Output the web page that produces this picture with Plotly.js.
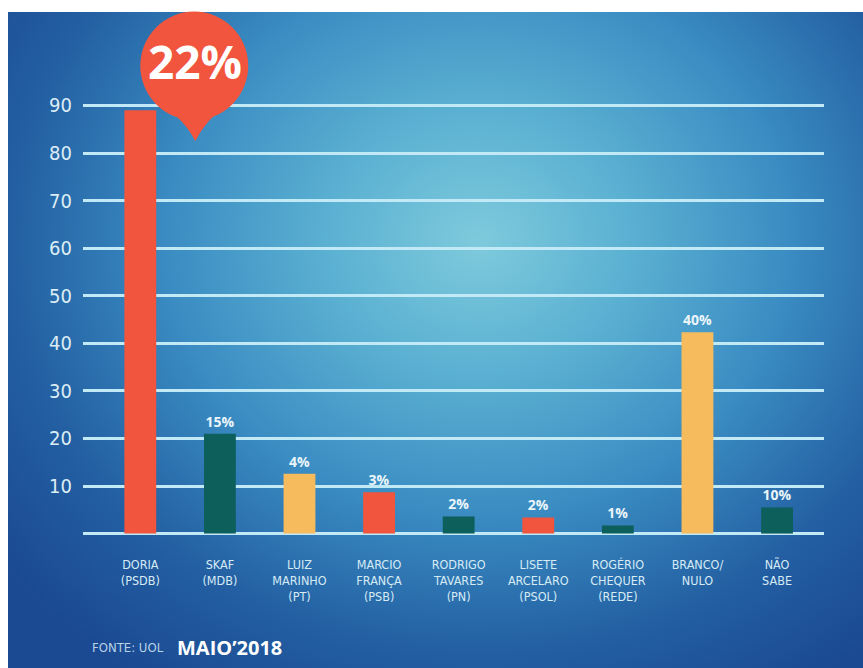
<!DOCTYPE html>
<html>
<head>
<meta charset="utf-8">
<script src="https://cdn.plot.ly/plotly-3.0.1.min.js"></script>
<style>
  html, body { margin: 0; padding: 0; background: #ffffff; }
  #wrap { position: relative; width: 863px; height: 668px; overflow: hidden; }
  #bg { position: absolute; left: 8px; top: 12px; width: 855px; height: 656px;
        background: radial-gradient(ellipse 70% 80% at 55% 35%, #7ecadc 0%, #5bb1d2 25%, #3a8cc2 52%, #235fa2 78%, #1b4a92 100%); }
  #chart { position: absolute; left: 0; top: 0; width: 863px; height: 668px; }
</style>
</head>
<body>
<div id="wrap">
  <div id="bg"></div>
  <div id="chart"></div>
</div>
<script>
// Data
var categories = ["DORIA<br>(PSDB)", "SKAF<br>(MDB)", "LUIZ<br>MARINHO<br>(PT)", "MARCIO<br>FRANÇA<br>(PSB)",
                  "RODRIGO<br>TAVARES<br>(PN)", "LISETE<br>ARCELARO<br>(PSOL)", "ROGÉRIO<br>CHEQUER<br>(REDE)",
                  "BRANCO/<br>NULO", "NÃO<br>SABE"];
var barHeights = [89, 21, 12.6, 8.7, 3.6, 3.4, 1.7, 42.3, 5.5];
var percentLabels = ["", "15%", "4%", "3%", "2%", "2%", "1%", "40%", "10%"];
var barColors = ["#f2553d", "#0d5f5c", "#f6bb5c", "#f2553d", "#0d5f5c", "#f2553d", "#0d5f5c", "#f6bb5c", "#0d5f5c"];
var highlightLabel = "22%";
var yTickVals = [0, 10, 20, 30, 40, 50, 60, 70, 80, 90];
var yTickText = ["", "10", "20", "30", "40", "50", "60", "70", "80", "90"];
var sourceText = "FONTE: UOL";
var dateText = "MAIO’2018";

var xIdx = categories.map(function (c, i) { return i; });

var trace = {
  type: "bar",
  x: xIdx,
  y: barHeights,
  width: 0.4,
  marker: { color: barColors, line: { width: 0 } },
  text: percentLabels,
  textposition: "outside",
  cliponaxis: false,
  textfont: { family: "Open Sans, sans-serif", size: 14, color: "#eaf5fa", weight: 700 },
  hoverinfo: "skip"
};

// bubble geometry helpers (paper coordinates, relative to plot area)
var L = 82.7, R = 824, T = 105, B = 534;
function px(x) { return (x - L) / (R - L); }
function py(y) { return (B - y) / (B - T); }

var layout = {
  width: 863, height: 668,
  margin: { l: L, r: 863 - R, t: T - 1.5, b: 668 - B - 1.5, pad: 0 },
  paper_bgcolor: "rgba(0,0,0,0)",
  plot_bgcolor: "rgba(0,0,0,0)",
  showlegend: false,
  bargap: 0.6,
  xaxis: {
    type: "linear",
    range: [-0.72, 8.59],
    tickvals: xIdx,
    ticktext: categories,
    showgrid: false, zeroline: false, showline: false,
    ticks: "",
    ticklabelstandoff: 20,
    tickfont: { family: "DejaVu Sans Condensed, Liberation Sans Narrow, sans-serif", size: 12.5, color: "#d7ebf5" }
  },
  yaxis: {
    range: [-0.3, 90.3],
    tickvals: yTickVals,
    ticktext: yTickText,
    showgrid: true,
    gridcolor: "#c2e9f6",
    gridwidth: 3,
    zeroline: false, showline: false,
    ticks: "",
    ticklabelstandoff: 10,
    tickfont: { family: "DejaVu Sans Condensed, Liberation Sans Narrow, sans-serif", size: 20, color: "#dcedf5" }
  },
  shapes: [
    { type: "circle", xref: "paper", yref: "paper",
      x0: px(140), x1: px(248), y0: py(13), y1: py(121),
      fillcolor: "#f2553d", line: { width: 0 }, layer: "above" },
    { type: "path", xref: "paper", yref: "paper",
      path: "M " + px(160) + " " + py(105) + " Q " + px(184) + " " + py(120) + " " + px(195) + " " + py(142) +
            " Q " + px(206) + " " + py(120) + " " + px(228) + " " + py(105) + " Z",
      fillcolor: "#f2553d", line: { width: 0 }, layer: "above" }
  ],
  annotations: [
    { xref: "paper", yref: "paper", x: px(195), y: py(62), text: highlightLabel, showarrow: false,
      xanchor: "center", yanchor: "middle",
      font: { family: "Open Sans, sans-serif", size: 46, color: "#ffffff", weight: 700 } },
    { xref: "paper", yref: "paper", x: px(90), y: py(646), text: sourceText, showarrow: false,
      xanchor: "left", yanchor: "middle",
      font: { family: "DejaVu Sans Condensed, sans-serif", size: 13, color: "#b9d3e8" } },
    { xref: "paper", yref: "paper", x: px(175), y: py(646), text: dateText, showarrow: false,
      xanchor: "left", yanchor: "middle",
      font: { family: "Open Sans, sans-serif", size: 20, color: "#ffffff", weight: 700 } }
  ]
};

Plotly.newPlot("chart", [trace], layout, { displayModeBar: false, staticPlot: true });
</script>
</body>
</html>
